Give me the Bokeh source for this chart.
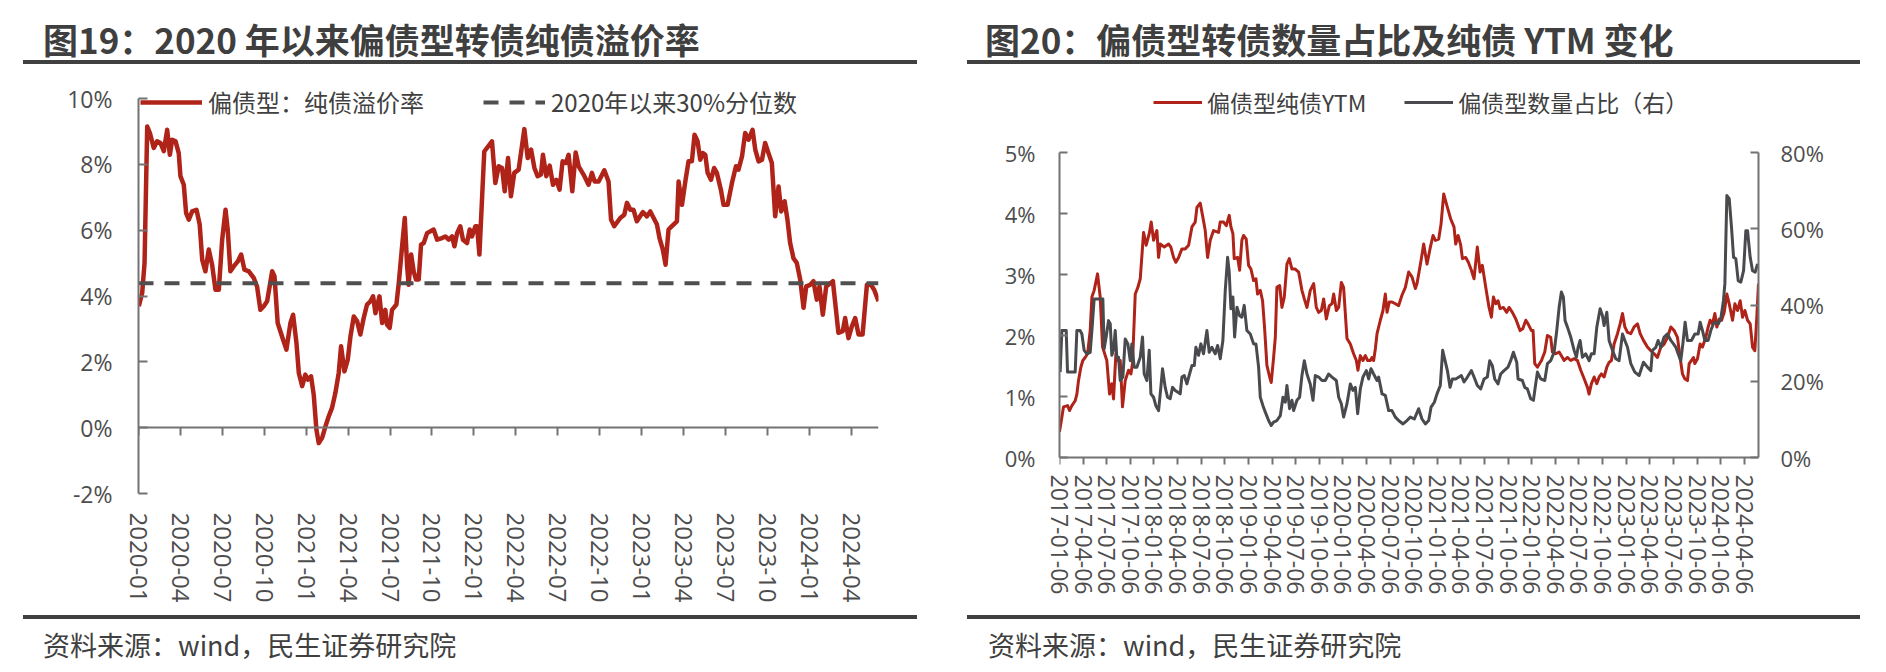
import math
from bokeh.plotting import figure
from bokeh.models import (Range1d, LinearAxis, FixedTicker, PrintfTickFormatter,
                          CustomJSTickFormatter, Legend, LegendItem, Div)
from bokeh.layouts import row, column
from bokeh.embed import file_html
from bokeh.resources import INLINE

# ---------------------------------------------------------------- data: 图19
premium_tick_origin = 2020.0
premium_ticks = ["2020-01", "2020-04", "2020-07", "2020-10", "2021-01", "2021-04",
                 "2021-07", "2021-10", "2022-01", "2022-04", "2022-07", "2022-10",
                 "2023-01", "2023-04", "2023-07", "2023-10", "2024-01", "2024-04"]
premium_year = [
    2020.002, 2020.022, 2020.036, 2020.052, 2020.068, 2020.091, 2020.111, 2020.131, 2020.151, 2020.171,
    2020.187, 2020.201, 2020.221, 2020.240, 2020.250, 2020.270, 2020.284, 2020.300, 2020.320, 2020.346,
    2020.365, 2020.380, 2020.399, 2020.419, 2020.439, 2020.459, 2020.479, 2020.499, 2020.519, 2020.532,
    2020.548, 2020.568, 2020.592, 2020.612, 2020.632, 2020.658, 2020.687, 2020.707, 2020.727, 2020.747,
    2020.767, 2020.797, 2020.811, 2020.830, 2020.856, 2020.882, 2020.906, 2020.922, 2020.942, 2020.956,
    2020.976, 2020.995, 2021.009, 2021.029, 2021.045, 2021.061, 2021.075, 2021.095, 2021.115, 2021.134,
    2021.154, 2021.174, 2021.194, 2021.208, 2021.228, 2021.248, 2021.264, 2021.284, 2021.304, 2021.323,
    2021.343, 2021.363, 2021.383, 2021.399, 2021.413, 2021.437, 2021.453, 2021.472, 2021.482, 2021.498,
    2021.512, 2021.538, 2021.552, 2021.572, 2021.588, 2021.602, 2021.611, 2021.626, 2021.641, 2021.655,
    2021.671, 2021.685, 2021.701, 2021.721, 2021.760, 2021.781, 2021.810, 2021.830, 2021.850, 2021.870,
    2021.884, 2021.900, 2021.919, 2021.935, 2021.959, 2021.975, 2021.989, 2022.009, 2022.019, 2022.033,
    2022.062, 2022.108, 2022.128, 2022.148, 2022.168, 2022.184, 2022.204, 2022.221, 2022.241, 2022.267,
    2022.301, 2022.321, 2022.341, 2022.361, 2022.380, 2022.400, 2022.412, 2022.432, 2022.452, 2022.472,
    2022.492, 2022.511, 2022.529, 2022.549, 2022.565, 2022.587, 2022.607, 2022.625, 2022.654, 2022.684,
    2022.704, 2022.720, 2022.744, 2022.778, 2022.803, 2022.818, 2022.837, 2022.873, 2022.897, 2022.913,
    2022.933, 2022.952, 2022.972, 2023.008, 2023.032, 2023.052, 2023.092, 2023.107, 2023.127, 2023.143,
    2023.161, 2023.181, 2023.211, 2023.221, 2023.241, 2023.261, 2023.280, 2023.300, 2023.316, 2023.334,
    2023.350, 2023.366, 2023.380, 2023.394, 2023.414, 2023.433, 2023.449, 2023.473, 2023.489, 2023.513,
    2023.539, 2023.563, 2023.578, 2023.599, 2023.618, 2023.638, 2023.662, 2023.678, 2023.698, 2023.718,
    2023.737, 2023.757, 2023.777, 2023.797, 2023.817, 2023.833, 2023.853, 2023.870, 2023.886, 2023.906,
    2023.926, 2023.946, 2023.966, 2023.982, 2024.006, 2024.025, 2024.045, 2024.061, 2024.081, 2024.101,
    2024.141, 2024.174, 2024.200, 2024.214, 2024.234, 2024.254, 2024.274, 2024.294, 2024.318, 2024.344,
    2024.368, 2024.387, 2024.413]
premium_pct = [
    3.69, 4.09, 5.00, 9.15, 8.95, 8.50, 8.70, 8.65, 8.40, 9.05,
    8.29, 8.75, 8.70, 8.34, 7.64, 7.38, 6.52, 6.32, 6.57, 6.62,
    6.17, 5.10, 4.75, 5.41, 4.95, 4.19, 4.19, 5.71, 6.62, 6.02,
    4.75, 4.90, 5.05, 5.26, 4.80, 4.75, 4.55, 4.29, 3.58, 3.69,
    3.84, 4.75, 4.60, 3.18, 2.77, 2.37, 3.18, 3.43, 2.57, 1.66,
    1.26, 1.61, 1.46, 1.56, 1.00, -0.06, -0.47, -0.31, 0.04, 0.34,
    0.60, 1.05, 1.66, 2.47, 1.71, 2.07, 2.77, 3.38, 3.23, 2.83,
    3.33, 3.74, 3.84, 3.99, 3.48, 3.99, 3.18, 3.58, 3.13, 3.03,
    3.58, 3.74, 4.39, 5.51, 6.37, 4.90, 4.34, 5.26, 4.75, 4.50,
    4.50, 5.56, 5.61, 5.91, 6.02, 5.71, 5.76, 5.81, 5.71, 5.81,
    5.51, 5.91, 6.12, 5.71, 5.61, 6.02, 5.81, 6.12, 6.12, 5.26,
    8.39, 8.70, 7.43, 7.94, 7.89, 7.18, 8.19, 7.03, 7.74, 7.84,
    9.07, 8.19, 8.45, 7.89, 7.64, 7.69, 8.29, 7.64, 7.96, 7.38,
    7.53, 7.23, 8.09, 8.04, 8.29, 7.18, 8.36, 7.94, 7.69, 7.38,
    7.74, 7.48, 7.48, 7.82, 7.48, 6.32, 6.12, 6.37, 6.47, 6.83,
    6.62, 6.62, 6.27, 6.55, 6.42, 6.57, 6.17, 5.76, 5.41, 4.95,
    6.02, 6.12, 6.27, 7.48, 6.77, 7.48, 8.09, 8.09, 8.90, 8.70,
    8.14, 8.34, 8.29, 7.74, 7.53, 7.89, 7.74, 7.23, 6.77, 6.77,
    7.43, 7.94, 7.84, 8.24, 8.95, 8.75, 9.05, 8.45, 8.09, 8.14,
    8.65, 8.34, 8.04, 6.42, 7.33, 6.57, 6.88, 6.32, 5.61, 5.15,
    5.00, 4.50, 3.64, 4.29, 4.34, 4.45, 3.89, 4.29, 3.43, 4.29,
    4.45, 2.88, 2.93, 3.33, 2.72, 3.08, 3.33, 2.83, 2.83, 4.34,
    4.34, 4.19, 3.84]
premium_q30 = 4.39
premium_yticks = [-2, 0, 2, 4, 6, 8, 10]

# ---------------------------------------------------------------- data: 图20
ytm_tick_origin = 2017.0
ytm_ticks = [f"{y}-{m}-06" for y in range(2017, 2024) for m in ("01", "04", "07", "10")] + \
            ["2024-01-06", "2024-04-06"]
ytm_year = [
    2017.000, 2017.025, 2017.042, 2017.085, 2017.106, 2017.131, 2017.166, 2017.184, 2017.201, 2017.226,
    2017.247, 2017.272, 2017.297, 2017.325, 2017.343, 2017.367, 2017.403, 2017.431, 2017.456, 2017.501,
    2017.530, 2017.554, 2017.572, 2017.597, 2017.614, 2017.643, 2017.667, 2017.696, 2017.731, 2017.756,
    2017.773, 2017.802, 2017.830, 2017.855, 2017.890, 2017.918, 2017.950, 2017.971, 2017.996, 2018.031,
    2018.049, 2018.066, 2018.109, 2018.155, 2018.179, 2018.208, 2018.232, 2018.261, 2018.296, 2018.331,
    2018.367, 2018.402, 2018.437, 2018.455, 2018.490, 2018.518, 2018.543, 2018.568, 2018.596, 2018.631,
    2018.684, 2018.702, 2018.737, 2018.766, 2018.797, 2018.815, 2018.836, 2018.850, 2018.886, 2018.907,
    2018.931, 2018.949, 2018.977, 2019.002, 2019.027, 2019.055, 2019.080, 2019.097, 2019.126, 2019.150,
    2019.172, 2019.196, 2019.225, 2019.242, 2019.267, 2019.285, 2019.302, 2019.331, 2019.355, 2019.380,
    2019.408, 2019.433, 2019.461, 2019.496, 2019.532, 2019.567, 2019.592, 2019.620, 2019.655, 2019.691,
    2019.719, 2019.744, 2019.772, 2019.797, 2019.825, 2019.857, 2019.885, 2019.903, 2019.931, 2019.956,
    2019.984, 2020.008, 2020.044, 2020.079, 2020.114, 2020.143, 2020.160, 2020.185, 2020.213, 2020.238,
    2020.263, 2020.291, 2020.309, 2020.326, 2020.344, 2020.362, 2020.397, 2020.425, 2020.450, 2020.468,
    2020.492, 2020.520, 2020.556, 2020.591, 2020.626, 2020.662, 2020.697, 2020.732, 2020.768, 2020.785,
    2020.828, 2020.856, 2020.891, 2020.927, 2020.955, 2020.980, 2021.015, 2021.040, 2021.068, 2021.107,
    2021.142, 2021.177, 2021.195, 2021.220, 2021.248, 2021.266, 2021.301, 2021.329, 2021.361, 2021.389,
    2021.424, 2021.453, 2021.477, 2021.513, 2021.548, 2021.573, 2021.594, 2021.619, 2021.643, 2021.665,
    2021.700, 2021.735, 2021.760, 2021.795, 2021.831, 2021.877, 2021.905, 2021.937, 2021.961, 2021.997,
    2022.014, 2022.032, 2022.060, 2022.103, 2022.138, 2022.166, 2022.201, 2022.219, 2022.254, 2022.290,
    2022.325, 2022.343, 2022.378, 2022.413, 2022.449, 2022.484, 2022.519, 2022.555, 2022.590, 2022.607,
    2022.632, 2022.661, 2022.689, 2022.714, 2022.738, 2022.766, 2022.795, 2022.819, 2022.844, 2022.872,
    2022.908, 2022.936, 2022.961, 2022.986, 2023.014, 2023.049, 2023.084, 2023.120, 2023.148, 2023.183,
    2023.225, 2023.261, 2023.296, 2023.331, 2023.367, 2023.402, 2023.437, 2023.473, 2023.508, 2023.543,
    2023.571, 2023.596, 2023.621, 2023.649, 2023.667, 2023.691, 2023.712, 2023.727, 2023.755, 2023.783,
    2023.808, 2023.843, 2023.868, 2023.889, 2023.914, 2023.939, 2023.960, 2023.985, 2024.010, 2024.038,
    2024.066, 2024.091, 2024.126, 2024.151, 2024.179, 2024.207, 2024.232, 2024.257, 2024.285, 2024.313,
    2024.338, 2024.362, 2024.383, 2024.401]
ytm_pct = [
    0.42, 0.66, 0.83, 0.85, 0.77, 0.85, 0.93, 1.04, 1.26, 1.48,
    1.59, 1.64, 1.70, 2.08, 2.63, 2.74, 3.01, 2.63, 1.81, 1.59,
    1.04, 1.21, 0.96, 1.70, 1.59, 1.59, 0.83, 1.26, 1.43, 1.37,
    1.54, 2.68, 2.79, 2.93, 3.69, 3.48, 3.67, 3.86, 3.56, 3.72,
    3.28, 3.50, 3.45, 3.50, 3.45, 3.28, 3.20, 3.28, 3.42, 3.42,
    3.48, 3.78, 3.86, 4.10, 4.17, 3.94, 3.72, 3.28, 3.56, 3.72,
    3.69, 3.86, 3.86, 3.80, 3.97, 3.78, 3.67, 3.26, 3.28, 3.07,
    3.56, 3.64, 3.58, 3.15, 3.09, 2.90, 2.93, 2.68, 2.74, 2.57,
    2.11, 1.51, 1.32, 1.23, 1.64, 1.97, 2.79, 2.82, 2.46, 2.63,
    3.17, 3.26, 3.09, 3.09, 3.04, 2.74, 2.60, 2.46, 2.74, 2.85,
    2.46, 2.38, 2.41, 2.60, 2.27, 2.49, 2.52, 2.68, 2.41, 2.46,
    2.87, 2.79, 1.95, 1.86, 1.70, 1.59, 1.43, 1.67, 1.59, 1.67,
    1.59, 1.59, 1.64, 1.59, 1.78, 2.03, 2.25, 2.41, 2.68, 2.38,
    2.55, 2.55, 2.52, 2.49, 2.66, 2.79, 3.04, 2.96, 2.77, 2.85,
    3.23, 3.50, 3.17, 3.45, 3.64, 3.56, 3.58, 3.83, 4.32, 4.10,
    3.91, 3.78, 3.50, 3.64, 3.48, 3.26, 3.28, 3.20, 3.07, 2.93,
    3.45, 3.04, 3.15, 2.79, 2.46, 2.30, 2.63, 2.52, 2.57, 2.44,
    2.46, 2.38, 2.46, 2.38, 2.27, 2.08, 2.11, 2.25, 2.19, 2.08,
    2.08, 1.54, 1.48, 1.59, 1.73, 2.00, 1.97, 1.73, 1.70, 1.73,
    1.64, 1.59, 1.64, 1.59, 1.62, 1.59, 1.43, 1.29, 1.15, 1.04,
    1.21, 1.32, 1.21, 1.32, 1.37, 1.32, 1.48, 1.56, 1.59, 1.86,
    2.03, 2.19, 2.36, 2.14, 2.05, 2.03, 2.14, 2.19, 2.03, 1.92,
    1.81, 1.75, 1.70, 1.64, 1.81, 1.86, 1.97, 2.14, 2.08, 1.97,
    1.64, 1.37, 1.29, 1.26, 1.54, 1.59, 1.64, 1.54, 1.62, 1.86,
    1.81, 1.97, 2.14, 2.25, 2.19, 2.36, 2.14, 2.27, 2.25, 2.38,
    2.68, 2.52, 2.25, 2.52, 2.41, 2.57, 2.30, 2.41, 2.25, 2.19,
    1.81, 1.75, 2.30, 2.85]
share_year = [
    2017.007, 2017.025, 2017.049, 2017.071, 2017.085, 2017.113, 2017.166, 2017.184, 2017.219, 2017.237,
    2017.261, 2017.290, 2017.325, 2017.343, 2017.367, 2017.413, 2017.459, 2017.473, 2017.494, 2017.519,
    2017.537, 2017.554, 2017.572, 2017.590, 2017.607, 2017.625, 2017.643, 2017.671, 2017.696, 2017.724,
    2017.749, 2017.766, 2017.791, 2017.819, 2017.855, 2017.879, 2017.897, 2017.925, 2017.950, 2017.968,
    2017.996, 2018.020, 2018.049, 2018.073, 2018.091, 2018.119, 2018.144, 2018.172, 2018.197, 2018.225,
    2018.254, 2018.278, 2018.296, 2018.321, 2018.349, 2018.377, 2018.402, 2018.427, 2018.444, 2018.472,
    2018.497, 2018.525, 2018.561, 2018.585, 2018.614, 2018.649, 2018.674, 2018.702, 2018.730, 2018.755,
    2018.780, 2018.797, 2018.815, 2018.836, 2018.854, 2018.879, 2018.907, 2018.931, 2018.956, 2018.984,
    2019.020, 2019.055, 2019.080, 2019.108, 2019.126, 2019.154, 2019.179, 2019.214, 2019.242, 2019.267,
    2019.302, 2019.338, 2019.366, 2019.391, 2019.408, 2019.436, 2019.461, 2019.479, 2019.514, 2019.542,
    2019.567, 2019.592, 2019.620, 2019.655, 2019.684, 2019.708, 2019.744, 2019.779, 2019.814, 2019.850,
    2019.885, 2019.931, 2019.956, 2019.984, 2020.008, 2020.044, 2020.079, 2020.107, 2020.132, 2020.157,
    2020.185, 2020.213, 2020.249, 2020.273, 2020.298, 2020.326, 2020.362, 2020.379, 2020.415, 2020.450,
    2020.485, 2020.520, 2020.556, 2020.591, 2020.637, 2020.679, 2020.715, 2020.757, 2020.803, 2020.838,
    2020.874, 2020.909, 2020.934, 2020.969, 2020.997, 2021.032, 2021.057, 2021.107, 2021.135, 2021.160,
    2021.195, 2021.230, 2021.255, 2021.283, 2021.319, 2021.361, 2021.389, 2021.424, 2021.460, 2021.495,
    2021.530, 2021.555, 2021.583, 2021.608, 2021.643, 2021.671, 2021.707, 2021.749, 2021.777, 2021.806,
    2021.841, 2021.855, 2021.901, 2021.926, 2021.954, 2021.989, 2022.018, 2022.042, 2022.060, 2022.095,
    2022.138, 2022.166, 2022.201, 2022.237, 2022.265, 2022.290, 2022.314, 2022.335, 2022.353, 2022.378,
    2022.413, 2022.449, 2022.473, 2022.491, 2022.512, 2022.537, 2022.572, 2022.607, 2022.632, 2022.661,
    2022.689, 2022.724, 2022.749, 2022.766, 2022.795, 2022.819, 2022.855, 2022.890, 2022.925, 2022.961,
    2022.986, 2023.014, 2023.049, 2023.091, 2023.137, 2023.183, 2023.225, 2023.261, 2023.278, 2023.314,
    2023.338, 2023.367, 2023.402, 2023.437, 2023.473, 2023.501, 2023.526, 2023.550, 2023.578, 2023.600,
    2023.624, 2023.649, 2023.691, 2023.727, 2023.762, 2023.783, 2023.808, 2023.833, 2023.868, 2023.896,
    2023.924, 2023.949, 2023.977, 2024.002, 2024.030, 2024.045, 2024.066, 2024.091, 2024.115, 2024.137,
    2024.161, 2024.186, 2024.214, 2024.243, 2024.267, 2024.285, 2024.313, 2024.338, 2024.366, 2024.391]
share_pct = [
    22.4, 33.3, 33.3, 33.3, 22.4, 22.4, 22.4, 33.3, 33.3, 32.4,
    28.1, 27.2, 27.6, 33.3, 41.6, 41.6, 41.6, 28.5, 31.6, 35.9,
    35.1, 26.8, 28.1, 33.3, 26.3, 26.3, 20.2, 21.1, 31.1, 29.8,
    25.4, 29.8, 23.7, 23.7, 26.3, 31.6, 21.9, 20.2, 28.1, 16.7,
    15.8, 13.6, 12.3, 18.4, 23.3, 18.4, 15.8, 15.4, 18.4, 17.6,
    17.1, 16.7, 21.1, 21.5, 19.3, 21.9, 24.1, 24.1, 28.9, 26.8,
    29.8, 27.2, 33.3, 27.6, 28.9, 27.2, 29.4, 25.9, 30.7, 43.8,
    52.5, 48.6, 39.0, 42.1, 31.6, 39.4, 37.2, 36.8, 39.9, 33.3,
    32.4, 29.8, 29.8, 23.7, 15.8, 13.6, 11.9, 9.7, 8.4, 9.3,
    9.7, 11.0, 15.8, 14.5, 18.9, 12.8, 15.0, 12.3, 15.0, 15.8,
    21.5, 25.4, 21.9, 19.3, 15.0, 21.5, 21.1, 20.2, 20.2, 21.9,
    21.1, 20.2, 15.8, 14.1, 10.6, 14.1, 19.3, 17.6, 18.4, 11.5,
    18.0, 21.1, 22.8, 20.6, 23.3, 21.9, 20.2, 21.1, 16.7, 16.3,
    12.3, 12.3, 10.6, 9.7, 8.8, 9.7, 10.6, 10.1, 12.8, 10.1,
    8.8, 9.7, 13.2, 14.5, 16.7, 18.9, 28.1, 22.8, 18.4, 20.6,
    20.6, 21.1, 21.5, 19.8, 21.1, 22.8, 21.1, 18.9, 18.0, 20.6,
    21.1, 25.4, 24.1, 20.6, 19.3, 21.9, 22.8, 23.7, 25.4, 27.6,
    25.0, 20.6, 20.2, 18.4, 18.0, 15.4, 15.0, 19.3, 22.4, 20.6,
    20.2, 24.6, 25.4, 27.6, 33.3, 39.4, 43.4, 42.1, 35.9, 34.2,
    31.6, 28.1, 26.3, 28.9, 30.7, 26.3, 27.2, 25.4, 27.2, 27.2,
    34.2, 39.0, 37.2, 34.6, 38.1, 30.7, 28.1, 25.9, 25.4, 32.4,
    30.7, 28.9, 24.6, 22.4, 21.5, 25.0, 23.7, 22.8, 28.1, 28.9,
    30.7, 28.9, 31.6, 32.4, 30.7, 29.8, 28.9, 27.2, 25.4, 29.8,
    35.5, 30.7, 30.7, 32.4, 32.4, 35.5, 33.3, 30.7, 30.7, 33.3,
    35.1, 35.5, 35.1, 36.4, 41.2, 45.6, 68.7, 67.9, 60.4, 52.5,
    52.1, 46.4, 46.0, 49.0, 59.5, 59.5, 52.5, 49.0, 48.6, 50.8]
ytm_yticks = [0, 1, 2, 3, 4, 5]
share_yticks = [0, 20, 40, 60, 80]

TITLE19 = "图19：2020 年以来偏债型转债纯债溢价率"
TITLE20 = "图20：偏债型转债数量占比及纯债 YTM 变化"
SOURCE = "资料来源：wind，民生证券研究院"

# ---------------------------------------------------------------- style / layout (page pixels)
CJK = "Noto Sans CJK SC"
NUM = "Open Sans"
RED = "#AF2319"
DARK = "#484A4D"
AXIS = "#737373"
TEXT = "#404040"
TICK_TXT = "#4D4D4D"
FIG_W = 943
CHART_TOP, FOOT_TOP, PAGE_BOTTOM = 72, 612, 672
FRAME_TOP, FRAME_BOTTOM = 84, 493          # shared plot frame (both charts)


def quarter_formatter(labels, origin):
    return CustomJSTickFormatter(
        args=dict(labels=labels, origin=origin),
        code="const i = Math.round((tick - origin) * 4);"
             "return (i >= 0 && i < labels.length) ? labels[i] : '';")


def quarter_ticker(labels, origin):
    return FixedTicker(ticks=[origin + 0.25 * i for i in range(len(labels))], minor_ticks=[])


def style_axis(ax, size):
    ax.axis_line_color = AXIS
    ax.axis_line_width = 2
    ax.major_tick_line_color = AXIS
    ax.major_tick_line_width = 2
    ax.minor_tick_line_color = None
    ax.minor_tick_in = 0
    ax.minor_tick_out = 0
    ax.major_label_text_font = NUM
    ax.major_label_text_font_size = size
    ax.major_label_text_color = TICK_TXT


def tick_only_axis(ticker, location, tick_len):
    # axis line + short downward ticks drawn at a data location (0 %)
    ax = LinearAxis(fixed_location=location)
    style_axis(ax, "10px")
    ax.ticker = ticker
    ax.formatter = CustomJSTickFormatter(code="return '';")
    ax.major_tick_in = tick_len
    ax.major_tick_out = 0
    ax.major_label_standoff = 0
    return ax


def make_chart(fig_x, frame_left, frame_right, x_range, y_range):
    p = figure(width=FIG_W, height=FOOT_TOP - CHART_TOP, title=None,
               output_backend="svg", toolbar_location=None,
               x_range=x_range, y_range=y_range,
               min_border_left=frame_left - fig_x,
               min_border_right=fig_x + FIG_W - frame_right,
               min_border_top=FRAME_TOP - CHART_TOP,
               min_border_bottom=FOOT_TOP - FRAME_BOTTOM)
    p.outline_line_color = None
    p.grid.visible = False
    return p


def header_div(fig_x, title, title_x, rule_x0, rule_x1):
    h = CHART_TOP
    html = (f'<div style="position:relative;width:{FIG_W}px;height:{h}px;">'
            f'<div style="position:absolute;left:{title_x - fig_x}px;top:{39 - 20}px;height:40px;'
            f'line-height:40px;white-space:nowrap;font-family:\'{CJK}\';font-size:35px;'
            f'font-weight:bold;color:#3F3F3F;">{title}</div>'
            f'<div style="position:absolute;left:{rule_x0 - fig_x}px;top:60px;'
            f'width:{rule_x1 - rule_x0}px;height:4px;background:#404040;"></div></div>')
    return Div(text=html, width=FIG_W, height=h, margin=0)


def footer_div(fig_x, text_x, rule_x0, rule_x1):
    h = PAGE_BOTTOM - FOOT_TOP
    html = (f'<div style="position:relative;width:{FIG_W}px;height:{h}px;">'
            f'<div style="position:absolute;left:{rule_x0 - fig_x}px;top:{615 - FOOT_TOP}px;'
            f'width:{rule_x1 - rule_x0}px;height:4px;background:#404040;"></div>'
            f'<div style="position:absolute;left:{text_x - fig_x}px;top:{645 - FOOT_TOP - 20}px;'
            f'height:40px;line-height:40px;white-space:nowrap;font-family:\'{CJK}\';'
            f'font-size:27px;color:{TEXT};">{SOURCE}</div></div>')
    return Div(text=html, width=FIG_W, height=h, margin=0)


# ================================================================ 图19
X19 = 0
L_LEFT, L_RIGHT = 138, 878
L_Y_TOP_PX, L_Y_BOT_PX = 98, 493                 # page y of 10% and -2%
l_px_per = (L_Y_BOT_PX - L_Y_TOP_PX) / (premium_yticks[-1] - premium_yticks[0])
l_y_start = premium_yticks[0] - (FRAME_BOTTOM - L_Y_BOT_PX) / l_px_per
l_y_end = premium_yticks[-1] + (L_Y_TOP_PX - FRAME_TOP) / l_px_per

p1 = make_chart(X19, L_LEFT, L_RIGHT,
                Range1d(premium_tick_origin, premium_year[-1]),
                Range1d(l_y_start, l_y_end))

ya = p1.yaxis[0]
style_axis(ya, "23px")
ya.bounds = (premium_yticks[0], premium_yticks[-1])
ya.ticker = FixedTicker(ticks=premium_yticks, minor_ticks=[])
ya.formatter = PrintfTickFormatter(format="%d%%")
ya.major_tick_in = 9
ya.major_tick_out = 0
ya.major_label_standoff = 26

xa = p1.xaxis[0]
style_axis(xa, "24px")
xa.axis_line_color = None
xa.major_tick_line_color = None
xa.major_tick_in = 0
xa.major_tick_out = 0
xa.ticker = quarter_ticker(premium_ticks, premium_tick_origin)
xa.formatter = quarter_formatter(premium_ticks, premium_tick_origin)
xa.major_label_orientation = -math.pi / 2
xa.major_label_standoff = 512 - FRAME_BOTTOM

p1.add_layout(tick_only_axis(quarter_ticker(premium_ticks, premium_tick_origin), 0, 8), "above")

r_prem = p1.line(premium_year, premium_pct, line_color=RED, line_width=4.5, line_join="round")
r_q30 = p1.line([premium_tick_origin, premium_year[-1]], [premium_q30, premium_q30],
                line_color="#4F4F4F", line_width=4, line_dash="15 11")

leg1 = Legend(items=[LegendItem(label="偏债型：纯债溢价率", renderers=[r_prem]),
                     LegendItem(label="2020年以来30%分位数", renderers=[r_q30])],
              location=(140 - L_LEFT, FRAME_BOTTOM - 104 - 15),
              orientation="horizontal", glyph_width=62, glyph_height=30, label_height=30,
              label_standoff=6, spacing=59, padding=0, margin=0,
              border_line_color=None, background_fill_alpha=0,
              label_text_font=CJK, label_text_font_size="24px", label_text_color=TEXT)
p1.add_layout(leg1)

col1 = column(header_div(X19, TITLE19, 43, 23, 917), p1, footer_div(X19, 43, 23, 917))

# ================================================================ 图20
X20 = FIG_W
R_LEFT, R_RIGHT = 1059, 1758
R_Y_TOP_PX, R_Y_BOT_PX = 152, 457                # page y of 5% / 80% and 0%
r_px_per = (R_Y_BOT_PX - R_Y_TOP_PX) / ytm_yticks[-1]
r_y_start = -(FRAME_BOTTOM - R_Y_BOT_PX) / r_px_per
r_y_end = ytm_yticks[-1] + (R_Y_TOP_PX - FRAME_TOP) / r_px_per
share_per_ytm = share_yticks[-1] / ytm_yticks[-1]

p2 = make_chart(X20, R_LEFT, R_RIGHT,
                Range1d(ytm_tick_origin, max(ytm_year[-1], share_year[-1])),
                Range1d(r_y_start, r_y_end))
p2.extra_y_ranges = {"share": Range1d(r_y_start * share_per_ytm, r_y_end * share_per_ytm)}

yl = p2.yaxis[0]
style_axis(yl, "22px")
yl.bounds = (ytm_yticks[0], ytm_yticks[-1])
yl.ticker = FixedTicker(ticks=ytm_yticks, minor_ticks=[])
yl.formatter = PrintfTickFormatter(format="%d%%")
yl.major_tick_in = 8
yl.major_tick_out = 0
yl.major_label_standoff = 24

yr = LinearAxis(y_range_name="share")
style_axis(yr, "22px")
yr.bounds = (share_yticks[0], share_yticks[-1])
yr.ticker = FixedTicker(ticks=share_yticks, minor_ticks=[])
yr.formatter = PrintfTickFormatter(format="%d%%")
yr.major_tick_in = 8
yr.major_tick_out = 0
yr.major_label_standoff = 22
p2.add_layout(yr, "right")

xb = p2.xaxis[0]
style_axis(xb, "23px")
xb.axis_line_color = None
xb.major_tick_line_color = None
xb.major_tick_in = 0
xb.major_tick_out = 0
xb.ticker = quarter_ticker(ytm_ticks, ytm_tick_origin)
xb.formatter = quarter_formatter(ytm_ticks, ytm_tick_origin)
xb.major_label_orientation = -math.pi / 2
xb.major_label_standoff = 474 - FRAME_BOTTOM

p2.add_layout(tick_only_axis(quarter_ticker(ytm_ticks, ytm_tick_origin), 0, 7), "above")

r_ytm = p2.line(ytm_year, ytm_pct, line_color=RED, line_width=3, line_join="round")
r_share = p2.line(share_year, share_pct, y_range_name="share", line_color=DARK,
                  line_width=3, line_join="round")

leg2 = Legend(items=[LegendItem(label="偏债型纯债YTM", renderers=[r_ytm]),
                     LegendItem(label="偏债型数量占比（右）", renderers=[r_share])],
              location=(1153 - R_LEFT, FRAME_BOTTOM - 104 - 15),
              orientation="horizontal", glyph_width=49, glyph_height=30, label_height=30,
              label_standoff=5, spacing=38, padding=0, margin=0,
              border_line_color=None, background_fill_alpha=0,
              label_text_font=CJK, label_text_font_size="23px", label_text_color=TEXT)
p2.add_layout(leg2)

col2 = column(header_div(X20, TITLE20, 985, 967, 1860), p2, footer_div(X20, 988, 967, 1860))

layout = row(col1, col2)
open("out.html", "w").write(file_html(layout, INLINE, title="偏债型转债"))
